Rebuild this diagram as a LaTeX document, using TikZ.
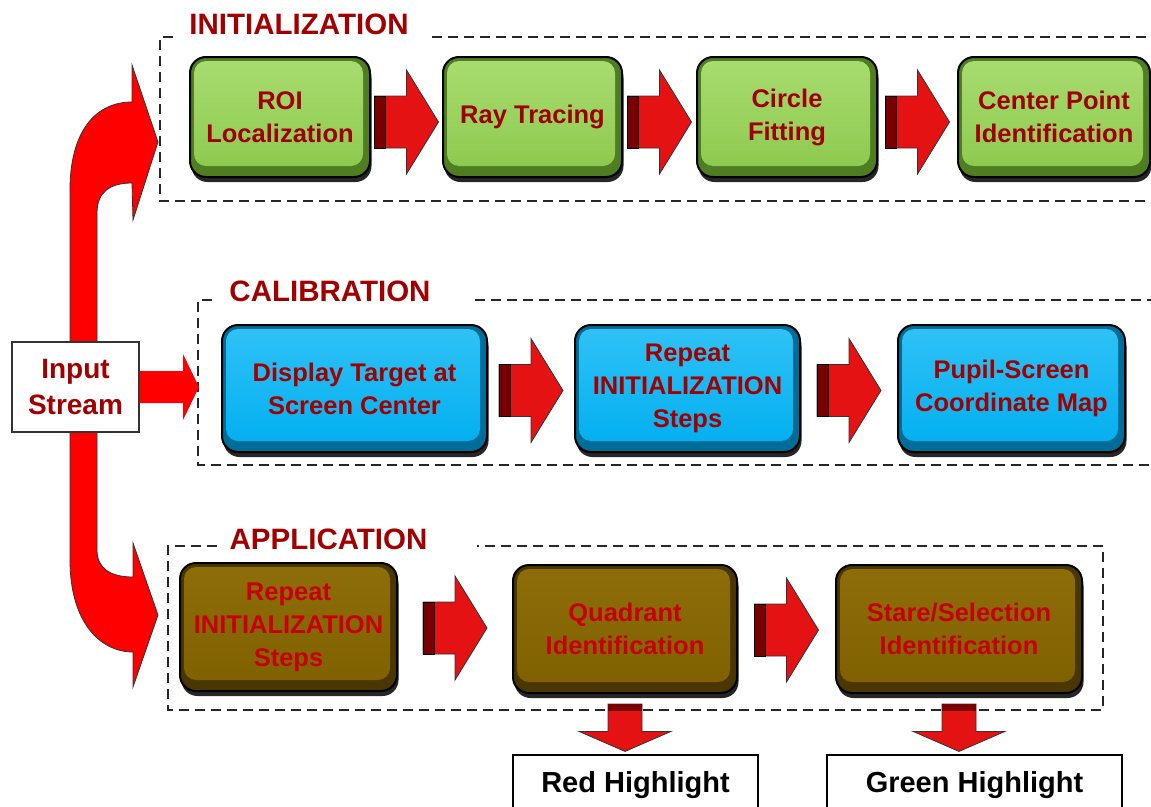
\documentclass[tikz,border=0pt]{standalone}
\usepackage{fontspec}
\setmainfont{Liberation Sans}
\usetikzlibrary{calc,shadows}
\definecolor{gmain}{HTML}{8CC84C}
\definecolor{glight}{HTML}{A8DC70}
\definecolor{gdark}{HTML}{4F7D22}
\definecolor{bmain}{HTML}{00AEEF}
\definecolor{blight}{HTML}{30C2F6}
\definecolor{bdark}{HTML}{006C98}
\definecolor{nmain}{HTML}{7F6000}
\definecolor{nlight}{HTML}{8E6E0A}
\definecolor{ndark}{HTML}{4A3700}
\definecolor{txtred}{HTML}{A00000}
\definecolor{brtred}{HTML}{C80000}
\definecolor{arrred}{HTML}{E41212}
\definecolor{bandred}{HTML}{780000}
\definecolor{curvred}{HTML}{FF0000}
\newcommand\boxfont{\fontsize{25.5}{33}\selectfont\bfseries}
\newcommand\ttlfont{\fontsize{29.5}{35}\selectfont\bfseries}
\newcommand\infont{\fontsize{28}{36}\selectfont\bfseries}
\newcommand\hlfont{\fontsize{29}{35}\selectfont\bfseries}
\tikzset{
  box/.style={rounded corners=16pt, draw=black, line width=2pt, align=center,
    font=\boxfont, inner sep=0pt,
    drop shadow={shadow xshift=1.5pt, shadow yshift=-5pt, fill=black, opacity=0.85}},
  face/.style n args={2}{path picture={\shade[top color=#1, bottom color=#2, rounded corners=12pt]
    ($(path picture bounding box.south west)+(4pt,11pt)$) rectangle
    ($(path picture bounding box.north east)+(-7pt,-4pt)$);}},
  gbox/.style={box, fill=gdark, text=txtred, face={glight}{gmain}, minimum height=120pt},
  bbox/.style={box, fill=bdark, text=txtred, face={blight}{bmain}, minimum height=127pt},
  nbox/.style={box, fill=ndark, text=brtred, face={nlight}{nmain}, minimum height=128pt},
  frame/.style={draw=black!85, line width=2pt, dash pattern=on 10pt off 6pt},
  ttl/.style={font=\ttlfont, text=txtred, inner sep=0pt},
  hl/.style={draw=black, line width=1.2pt, fill=white, minimum height=60pt, font=\hlfont, text=black},
  arrsty/.style={fill=arrred, draw=black!80, line width=0.8pt},
  curvsty/.style={fill=curvred, draw=black!80, line width=0.8pt}
}
\newcommand\harr[3][0]{%
  \filldraw[arrsty] let \p1=([yshift=#1pt]#2.east), \p2=(#3.west), \p3=($(\p1)!0.5!(\p2)$) in
    (\x3-32pt,\y1+26pt) -- (\x3,\y1+26pt) -- (\x3,\y1+52pt) -- (\x3+32pt,\y1) --
    (\x3,\y1-52pt) -- (\x3,\y1-26pt) -- (\x3-32pt,\y1-26pt) -- cycle;
  \filldraw[fill=bandred, draw=black, line width=0.8pt] let \p1=([yshift=#1pt]#2.east), \p2=(#3.west), \p3=($(\p1)!0.5!(\p2)$) in
    (\x3-32pt,\y1+26pt) rectangle (\x3-21pt,\y1-26pt);}
\newcommand\varr[2]{%
  \filldraw[arrsty] let \p1=(#1.south), \p2=(#2.north) in
    (\x1-17pt,\y1-10pt) -- (\x1+17pt,\y1-10pt) -- (\x1+17pt,\y2+23pt) -- (\x1+46pt,\y2+23pt) --
    (\x1,\y2+3pt) -- (\x1-46pt,\y2+23pt) -- (\x1-17pt,\y2+23pt) -- cycle;
  \fill[bandred] let \p1=(#1.south) in (\x1-17pt,\y1-10pt) rectangle (\x1+17pt,\y1-17pt);}
\begin{document}
\begin{tikzpicture}[x=1pt, y=-1pt]
\useasboundingbox (0,0) rectangle (1151,806);
% frames
\draw[frame] (173,37) -- (160,37) -- (160,201) -- (1170,201);
\draw[frame] (432,37) -- (1170,37);
\draw[frame] (212,300) -- (198,300) -- (198,465) -- (1170,465);
\draw[frame] (475,300) -- (1170,300);
\draw[frame] (217,546) -- (168,546) -- (168,710) -- (1103,710) -- (1103,546) -- (477,546);
\node[ttl] (tinit) at (299,24) {INITIALIZATION};
\node[ttl] (tcal) at (330,291) {CALIBRATION};
\node[ttl] (tapp) at (328.5,539) {APPLICATION};
\coordinate (initW) at (158,142);
\coordinate (calW) at (199,387);
\coordinate (appW) at (158,615);
% curved arrows
\filldraw[curvsty] (70,342) -- (70,190) .. controls (70,132) and (95,102) .. (132,102) -- (132,65) -- (initW) -- (133,220) -- (132,183) .. controls (110,183) and (97,192) .. (97,213) -- (97,342) -- cycle;
\filldraw[curvsty] (70,432) -- (70,560) .. controls (70,622) and (100,652) .. (133,652) -- (133,687) -- (appW) -- (133,543) -- (133,577) .. controls (110,577) and (97,568) .. (97,550) -- (97,432) -- cycle;
% input
\node[draw=black!80, line width=1.2pt, fill=white, minimum width=127pt, minimum height=90pt, font=\infont, text=txtred, align=center, inner sep=0pt] (input) at (75.5,387) {Input\\Stream};
\fill[curvred] let \p1=(input.east), \p2=(calW) in (\x1,\y1+16pt) -- (\x2-16pt,\y1+16pt) -- (\x2-16pt,\y1+33pt) -- (\x2,\y1) -- (\x2-16pt,\y1-33pt) -- (\x2-16pt,\y1-16pt) -- (\x1,\y1-16pt) -- cycle;
% initialization
\node[gbox, minimum width=180pt] (roi) at (280,117) {ROI\\Localization};
\node[gbox, minimum width=179pt] (ray) at (532.5,117) {Ray Tracing};
\node[gbox, minimum width=180pt] (circ) at (787,117) {Circle\\Fitting};
\node[gbox, minimum width=192pt] (cpt) at (1054,117) {Center Point\\Identification};
% calibration
\node[bbox, minimum width=265pt] (disp) at (354.5,388.5) {Display Target at\\Screen Center};
\node[bbox, minimum width=225pt] (rep1) at (687.5,388.5) {Repeat\\INITIALIZATION\\Steps};
\node[bbox, minimum width=227pt] (pupil) at (1011.5,388.5) {Pupil-Screen\\Coordinate Map};
% application
\node[nbox, minimum width=217pt] (rep2) at (288.5,627) {Repeat\\INITIALIZATION\\Steps};
\node[nbox, minimum width=224pt] (quad) at (625,629) {Quadrant\\Identification};
\node[nbox, minimum width=246pt] (stare) at (959,629) {Stare/Selection\\Identification};
% outputs
\node[hl, minimum width=245pt] (redhl) at (635.5,785) {Red Highlight};
\node[hl, minimum width=295pt] (greenhl) at (974.5,785) {Green Highlight};
% arrows
\harr[-5]{roi}{ray}
\harr[-5]{ray}{circ}
\harr[-5]{circ}{cpt}
\harr[-2]{disp}{rep1}
\harr[-2]{rep1}{pupil}
\harr[-1]{rep2}{quad}
\harr[-1]{quad}{stare}
\varr{quad}{redhl}
\varr{stare}{greenhl}
\end{tikzpicture}
\end{document}
